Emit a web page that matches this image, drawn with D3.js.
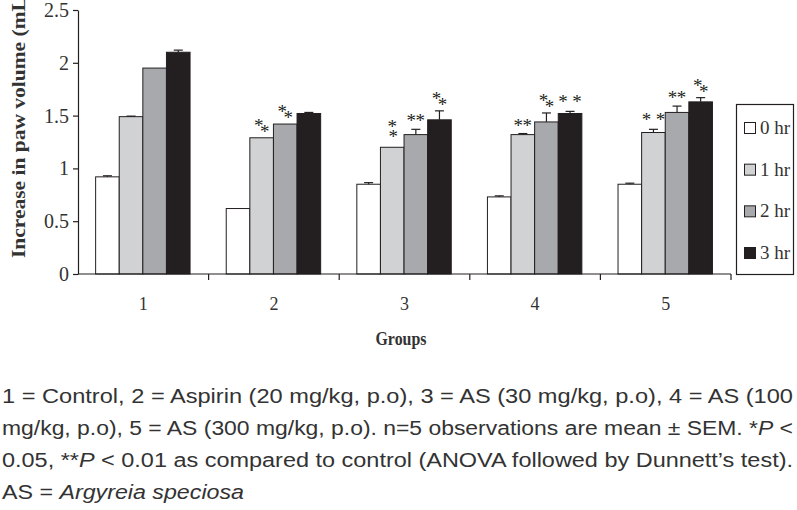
<!DOCTYPE html>
<html>
<head>
<meta charset="utf-8">
<script src="https://cdn.jsdelivr.net/npm/d3@7"></script>
<style>
  body { margin: 0; background: #fff; }
  svg { display: block; }
</style>
</head>
<body>
<svg id="chart" width="797" height="510"></svg>
<script>
// Chart data
const groups = ['1', '2', '3', '4', '5'];
const hours = ['0 hr', '1 hr', '2 hr', '3 hr'];
const means = [
    [0.92, 1.49, 1.95, 2.10],
    [0.62, 1.29, 1.42, 1.52],
    [0.85, 1.20, 1.32, 1.46],
    [0.73, 1.32, 1.44, 1.52],
    [0.85, 1.34, 1.53, 1.63]
];
const sems = [
    [0.01, 0.005, 0, 0.02],
    [0, 0, 0, 0.01],
    [0.015, 0, 0.05, 0.085],
    [0.01, 0.01, 0.085, 0.02],
    [0.01, 0.03, 0.06, 0.04]
];
// significance marks: d = diagonal pair, v = stacked, h = tight pair, s = spaced pair
const sigMarks = [
    ['', '', '', ''],
    ['', 'd', 'd', ''],
    ['', 'v', 'h', 'd'],
    ['', 'h', 'd', 's'],
    ['', 's', 'h', 'd']
];
const yTicks = [0, 0.5, 1, 1.5, 2, 2.5];
const colors = ['#ffffff', '#d1d2d4', '#a7a9ac', '#231f20'];
const captionLines = [
    '1 = Control, 2 = Aspirin (20 mg/kg, p.o), 3 = AS (30 mg/kg, p.o), 4 = AS (100',
    'mg/kg, p.o), 5 = AS (300 mg/kg, p.o). n=5 observations are mean \u00b1 SEM. *|P| <',
    '0.05, **|P| < 0.01 as compared to control (ANOVA followed by Dunnett\u2019s test).',
    'AS = |Argyreia speciosa|'
];

const ink = '#231f20';
const serif = '"Liberation Serif", "Times New Roman", serif';
const svg = d3.select('#chart');

const plot = { left: 78, right: 731, top: 10, bottom: 274 };

const x0 = d3.scaleBand().domain(groups).range([plot.left, plot.right]);
const bw = x0.bandwidth();
const x1 = d3.scaleBand().domain(hours).range([bw * 0.135, bw * 0.858]);
const y = d3.scaleLinear().domain([0, 2.5]).range([plot.bottom, plot.top]);

// Bars
const rows = [];
groups.forEach((g, gi) => hours.forEach((h, hi) => {
    rows.push({ g, h, hi, v: means[gi][hi], se: sems[gi][hi], sig: sigMarks[gi][hi] });
}));

const barG = svg.append('g');
barG.selectAll('rect')
    .data(rows)
    .enter()
    .append('rect')
    .attr('x', d => x0(d.g) + x1(d.h))
    .attr('y', d => y(d.v))
    .attr('width', x1.bandwidth())
    .attr('height', d => y(0) - y(d.v))
    .attr('fill', d => colors[d.hi])
    .attr('stroke', ink)
    .attr('stroke-width', 1);

// Error bars (upper whisker only)
const errG = svg.append('g').attr('stroke', ink).attr('stroke-width', 1.2);
rows.filter(d => d.se > 0).forEach(d => {
    const cx = x0(d.g) + x1(d.h) + x1.bandwidth() / 2;
    errG.append('line').attr('x1', cx).attr('x2', cx).attr('y1', y(d.v)).attr('y2', y(d.v + d.se));
    errG.append('line').attr('x1', cx - 4.5).attr('x2', cx + 4.5).attr('y1', y(d.v + d.se)).attr('y2', y(d.v + d.se));
});

// Asterisks
const starOffsets = {
    d: [[-3, -15], [3, -9]],
    v: [[0, -23], [1, -13]],
    h: [[-4.5, -11], [4.5, -11]],
    s: [[-7, -12], [7, -12]]
};
const starG = svg.append('g')
    .attr('font-family', serif)
    .attr('font-size', 19)
    .attr('fill', ink)
    .attr('text-anchor', 'middle');
rows.filter(d => d.sig).forEach(d => {
    const cx = x0(d.g) + x1(d.h) + x1.bandwidth() / 2;
    const top = y(d.v + d.se);
    starOffsets[d.sig].forEach(([dx, dy]) => {
        starG.append('text')
            .attr('x', cx + dx)
            .attr('y', top + dy + 9)
            .text('*');
    });
});

// Y axis
const yAxis = svg.append('g')
    .attr('transform', `translate(${plot.left},0)`)
    .call(d3.axisLeft(y).tickValues(yTicks).tickFormat(d3.format('~g')).tickSize(5).tickSizeOuter(0));
yAxis.select('.domain').attr('stroke', ink).attr('stroke-width', 1.2);
yAxis.selectAll('.tick line').attr('stroke', ink).attr('stroke-width', 1.2);
yAxis.selectAll('.tick text')
    .attr('font-family', serif)
    .attr('font-size', 20)
    .attr('fill', '#333')
    .attr('x', -9);

// X axis: baseline, boundary ticks and group labels
const xAxis = svg.append('g').attr('transform', `translate(0,${plot.bottom})`);
xAxis.append('line')
    .attr('x1', plot.left).attr('x2', plot.right)
    .attr('stroke', ink).attr('stroke-width', 1.2);
xAxis.selectAll('line.bound')
    .data(groups.slice(1).map(g => x0(g)).concat([plot.right]))
    .enter()
    .append('line')
    .attr('class', 'bound')
    .attr('x1', d => d).attr('x2', d => d)
    .attr('y1', 0).attr('y2', 6)
    .attr('stroke', ink).attr('stroke-width', 1.2);
xAxis.selectAll('text')
    .data(groups)
    .enter()
    .append('text')
    .attr('x', d => x0(d) + bw / 2)
    .attr('y', 36)
    .attr('text-anchor', 'middle')
    .attr('font-family', serif)
    .attr('font-size', 18)
    .attr('fill', '#333')
    .text(d => d);

// Axis titles
svg.append('text')
    .attr('x', 401)
    .attr('y', 345)
    .attr('text-anchor', 'middle')
    .attr('font-family', serif)
    .attr('font-weight', 'bold')
    .attr('font-size', 18)
    .attr('textLength', 51)
    .attr('lengthAdjust', 'spacingAndGlyphs')
    .attr('fill', '#333')
    .text('Groups');

svg.append('text')
    .attr('transform', 'translate(25,258) rotate(-90)')
    .attr('font-family', serif)
    .attr('font-weight', 'bold')
    .attr('font-size', 19)
    .attr('textLength', 268)
    .attr('lengthAdjust', 'spacingAndGlyphs')
    .attr('fill', '#333')
    .text('Increase in paw volume (mL)');

// Legend
const legend = svg.append('g');
legend.append('rect')
    .attr('x', 736.5).attr('y', 104.5)
    .attr('width', 57).attr('height', 170)
    .attr('fill', '#fff').attr('stroke', ink).attr('stroke-width', 1.2);
const legendY = d3.scalePoint().domain(hours).range([128, 253]);
hours.forEach((h, i) => {
    legend.append('rect')
        .attr('x', 744.5).attr('y', legendY(h) - 5.5)
        .attr('width', 11).attr('height', 11)
        .attr('fill', colors[i]).attr('stroke', ink).attr('stroke-width', 1);
    legend.append('text')
        .attr('x', 760).attr('y', legendY(h) + 6)
        .attr('font-family', serif)
        .attr('font-size', 19)
        .attr('fill', '#333')
        .text(h);
});

// Caption below the chart
const captionY = [403, 435, 467, 499];
captionLines.forEach((line, i) => {
    const t = svg.append('text')
        .attr('x', 2)
        .attr('y', captionY[i])
        .attr('font-family', '"Liberation Sans Narrow", "Arial Narrow", "Liberation Sans", sans-serif')
        .attr('font-size', 20)
        .attr('fill', '#333')
        .attr('lengthAdjust', 'spacingAndGlyphs')
        .attr('textLength', i < 3 ? 791 : 242);
    line.split('|').forEach((part, j) => {
        t.append('tspan')
            .attr('font-style', j % 2 ? 'italic' : 'normal')
            .text(part);
    });
});
</script>
</body>
</html>
